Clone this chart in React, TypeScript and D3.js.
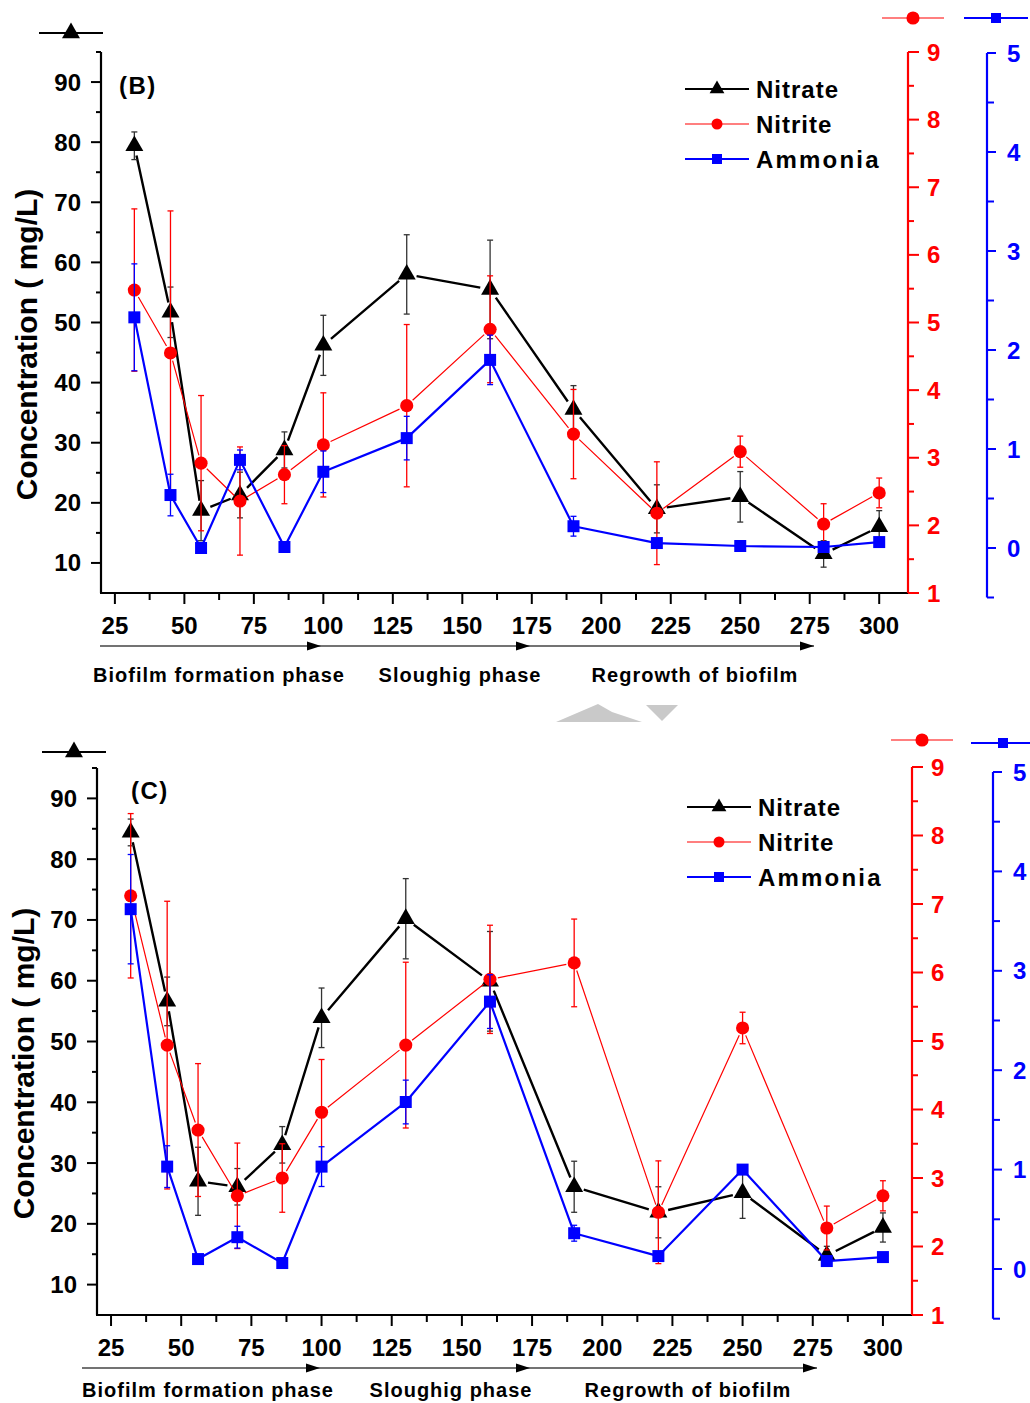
import React, { useEffect } from 'react';
import * as d3 from 'd3';

// Sampling days (x positions of every series)
const days = [32, 45, 56, 70, 86, 100, 130, 160, 190, 220, 250, 280, 300];

// Panel (B)
const nitrateB = [79.4, 51.7, 18.7, 21.3, 28.8, 46.2, 58.0, 55.5, 35.5, 19.0, 21.0, 11.5, 16.0];
const nitrateErrB = [2.3, 4.2, 5.0, 3.8, 3.0, 5.0, 6.6, 8.2, 4.0, 4.0, 4.2, 2.2, 2.7];
const nitriteB = [5.48, 4.55, 2.92, 2.36, 2.75, 3.19, 3.77, 4.9, 3.35, 2.18, 3.09, 2.02, 2.48];
const nitriteErrB = [1.2, 2.1, 1.0, 0.8, 0.43, 0.77, 1.2, 0.79, 0.66, 0.76, 0.23, 0.3, 0.22];
const ammoniaB = [2.33, 0.535, 0.0, 0.89, 0.01, 0.77, 1.11, 1.9, 0.22, 0.05, 0.02, 0.01, 0.06];
const ammoniaErrB = [0.54, 0.21, 0.03, 0.1, 0.02, 0.21, 0.22, 0.25, 0.1, 0.02, 0.02, 0.02, 0.02];

// Panel (C)
const nitrateC = [84.4, 56.6, 27.0, 26.1, 33.0, 53.9, 70.2, 59.9, 26.1, 21.9, 25.1, 14.8, 19.4];
const nitrateErrC = [2.2, 4.0, 5.6, 3.0, 3.0, 4.9, 6.6, 8.2, 4.2, 4.2, 4.2, 1.5, 2.4];
const nitriteC = [7.12, 4.94, 3.7, 2.74, 3.0, 3.96, 4.94, 5.9, 6.14, 2.5, 5.19, 2.27, 2.74];
const nitriteErrC = [1.2, 2.1, 0.97, 0.77, 0.5, 0.77, 1.21, 0.79, 0.64, 0.75, 0.23, 0.32, 0.22];
const ammoniaC = [3.62, 1.03, 0.1, 0.32, 0.06, 1.03, 1.68, 2.69, 0.36, 0.13, 1.0, 0.08, 0.12];
const ammoniaErrC = [0.55, 0.21, 0.03, 0.11, 0.02, 0.2, 0.22, 0.27, 0.08, 0.03, 0.03, 0.03, 0.03];

// Axis ticks and labels
const xTicks = [25, 50, 75, 100, 125, 150, 175, 200, 225, 250, 275, 300];
const leftTicks = [10, 20, 30, 40, 50, 60, 70, 80, 90];
const redTicks = [1, 2, 3, 4, 5, 6, 7, 8, 9];
const blueTicks = [0, 1, 2, 3, 4, 5];
const seriesNames = ['Nitrate', 'Nitrite', 'Ammonia'];
const phaseNames = ['Biofilm formation phase', 'Sloughig phase', 'Regrowth of biofilm'];

const FONT = '"Liberation Sans", Arial, Helvetica, sans-serif';
const BLACK = '#000';
const RED = '#ff0000';
const BLUE = '#0000ff';

type Layout = {
  label: string;
  x0: number; x1: number;
  yTop: number; yBot: number;
  redX: number; redTop: number; redBot: number;
  blueX: number; blueTop: number; blueBot: number;
  legendX: number; legendY: number;
  keyBlack: [number, number]; keyRed: [number, number]; keyBlue: [number, number];
  arrowY: number; arrowX0: number; arrowTips: number[];
  phaseY: number; phaseCx: number[];
  titleX: number; labelX: number; labelY: number;
  nitrate: number[]; nitrateErr: number[];
  nitrite: number[]; nitriteErr: number[];
  ammonia: number[]; ammoniaErr: number[];
};

const tri = d3.symbol(d3.symbolTriangle, 140)();
const triSmall = d3.symbol(d3.symbolTriangle, 95)();
const circ = d3.symbol(d3.symbolCircle, 135)();
const circSmall = d3.symbol(d3.symbolCircle, 95)();
const sq = d3.symbol(d3.symbolSquare, 144)();
const sqSmall = d3.symbol(d3.symbolSquare, 100)();

// Connecting segments, trimmed near each symbol so the line stops short of it
function segments(pts: [number, number][], gap: number) {
  const out: string[] = [];
  for (let i = 0; i < pts.length - 1; i++) {
    const [ax, ay] = pts[i];
    const [bx, by] = pts[i + 1];
    const len = Math.hypot(bx - ax, by - ay);
    if (len <= 2 * gap) continue;
    const ux = (bx - ax) / len, uy = (by - ay) / len;
    out.push(`M${ax + ux * gap},${ay + uy * gap}L${bx - ux * gap},${by - uy * gap}`);
  }
  return out.join('');
}

function Series({ xs, ys, errs, yScale, color, lineW, gap, marker, errColor }: any) {
  const pts: [number, number][] = xs.map((d: number, i: number) => [xs[i], yScale(ys[i])]);
  return (
    <g>
      <path d={segments(pts, gap)} stroke={color} strokeWidth={lineW} fill="none" />
      {pts.map(([px], i) => {
        const hi = yScale(ys[i] + errs[i]);
        const lo = yScale(ys[i] - errs[i]);
        return (
          <g key={i} stroke={errColor} strokeWidth={1.3}>
            <line x1={px} x2={px} y1={hi} y2={lo} />
            <line x1={px - 3} x2={px + 3} y1={hi} y2={hi} />
            <line x1={px - 3} x2={px + 3} y1={lo} y2={lo} />
          </g>
        );
      })}
      {pts.map(([px, py], i) => (
        <path key={'m' + i} d={marker} transform={`translate(${px},${py})`} fill={color} />
      ))}
    </g>
  );
}

function Key({ cx, cy, color, marker, w, thin }: any) {
  return (
    <g>
      <line x1={cx - w / 2} x2={cx + w / 2} y1={cy} y2={cy} stroke={color} strokeWidth={thin ? 1.2 : 2.2} />
      <path d={marker} transform={`translate(${cx},${cy})`} fill={color} />
    </g>
  );
}

function Panel({ L }: { L: Layout }) {
  const x = d3.scaleLinear().domain([20, 310]).range([L.x0, L.x1]);
  const y = d3.scaleLinear().domain([5, 95]).range([L.yBot, L.yTop]);
  const yr = d3.scaleLinear().domain([1, 9]).range([L.redBot, L.redTop]);
  const yb = d3.scaleLinear().domain([-0.5, 5]).range([L.blueBot, L.blueTop]);
  const xs = days.map((d) => x(d));
  const xMinor = d3.range(25, 310, 12.5);
  const leftMinor = d3.range(15, 96, 10);
  const redMinor = d3.range(1.5, 9, 1);
  const blueMinor = d3.range(-0.5, 5, 1);

  return (
    <g fontFamily={FONT} fontWeight="bold">
      {/* bottom axis */}
      <line x1={L.x0 - 1} x2={L.redX} y1={L.yBot} y2={L.yBot} stroke={BLACK} strokeWidth={2.2} />
      {xMinor.map((t) => (
        <line key={'xm' + t} x1={x(t)} x2={x(t)} y1={L.yBot} y2={L.yBot + (t % 25 === 0 ? 11 : 7)} stroke={BLACK} strokeWidth={2} />
      ))}
      {xTicks.map((t) => (
        <text key={'xt' + t} x={x(t)} y={L.yBot + 41} fontSize={24} textAnchor="middle" fill={BLACK}>{t}</text>
      ))}

      {/* left axis */}
      <line x1={L.x0} x2={L.x0} y1={L.yTop} y2={L.yBot} stroke={BLACK} strokeWidth={2.2} />
      {leftTicks.map((t) => (
        <g key={'yl' + t}>
          <line x1={L.x0 - 10} x2={L.x0} y1={y(t)} y2={y(t)} stroke={BLACK} strokeWidth={2} />
          <text x={L.x0 - 20} y={y(t) + 8.5} fontSize={24} textAnchor="end" fill={BLACK}>{t}</text>
        </g>
      ))}
      {leftMinor.map((t) => (
        <line key={'ylm' + t} x1={L.x0 - 5} x2={L.x0} y1={y(t)} y2={y(t)} stroke={BLACK} strokeWidth={2} />
      ))}

      {/* red right axis */}
      <line x1={L.redX} x2={L.redX} y1={L.redTop} y2={L.redBot} stroke={RED} strokeWidth={2.2} />
      {redTicks.map((t) => (
        <g key={'yr' + t}>
          <line x1={L.redX} x2={L.redX + 11} y1={yr(t)} y2={yr(t)} stroke={RED} strokeWidth={2} />
          <text x={L.redX + 19} y={yr(t) + 8.5} fontSize={24} fill={RED}>{t}</text>
        </g>
      ))}
      {redMinor.map((t) => (
        <line key={'yrm' + t} x1={L.redX} x2={L.redX + 6} y1={yr(t)} y2={yr(t)} stroke={RED} strokeWidth={2} />
      ))}

      {/* blue right axis */}
      <line x1={L.blueX} x2={L.blueX} y1={L.blueTop} y2={L.blueBot} stroke={BLUE} strokeWidth={2.2} />
      {blueTicks.map((t) => (
        <g key={'yb' + t}>
          <line x1={L.blueX} x2={L.blueX + 9} y1={yb(t)} y2={yb(t)} stroke={BLUE} strokeWidth={2} />
          <text x={L.blueX + 20} y={yb(t) + 8.5} fontSize={24} fill={BLUE}>{t}</text>
        </g>
      ))}
      {blueMinor.map((t) => (
        <line key={'ybm' + t} x1={L.blueX} x2={L.blueX + 7} y1={yb(t)} y2={yb(t)} stroke={BLUE} strokeWidth={2} />
      ))}

      {/* axis keys above each axis */}
      <Key cx={L.keyBlack[0]} cy={L.keyBlack[1]} color={BLACK} marker={tri} w={64} />
      <Key cx={L.keyRed[0]} cy={L.keyRed[1]} color={RED} marker={circ} w={62} thin />
      <Key cx={L.keyBlue[0]} cy={L.keyBlue[1]} color={BLUE} marker={sqSmall} w={64} />

      {/* y title and panel label */}
      <text transform={`translate(${L.titleX},${(L.yTop + L.yBot) / 2 + 22}) rotate(-90)`} fontSize={30} textAnchor="middle" fill={BLACK}>
        Concentration ( mg/L)
      </text>
      <text x={L.labelX} y={L.labelY + 8.5} fontSize={24} fill={BLACK} letterSpacing={1.5}>{L.label}</text>

      {/* data */}
      <Series xs={xs} ys={L.nitrate} errs={L.nitrateErr} yScale={y} color={BLACK} errColor="#333" lineW={2.4} gap={10} marker={tri} />
      <Series xs={xs} ys={L.nitrite} errs={L.nitriteErr} yScale={yr} color={RED} errColor={RED} lineW={1.2} gap={8} marker={circ} />
      <Series xs={xs} ys={L.ammonia} errs={L.ammoniaErr} yScale={yb} color={BLUE} errColor={BLUE} lineW={2.2} gap={0} marker={sq} />

      {/* legend */}
      {seriesNames.map((n, i) => {
        const ly = L.legendY + i * 35;
        const col = [BLACK, RED, BLUE][i];
        const mk = [triSmall, circSmall, sqSmall][i];
        return (
          <g key={n}>
            <Key cx={L.legendX + 32} cy={ly} color={col} marker={mk} w={64} thin={i === 1} />
            <text x={L.legendX + 71} y={ly + 9} fontSize={24} fill={BLACK} letterSpacing={i === 2 ? 2.2 : 1}>{n}</text>
          </g>
        );
      })}

      {/* phase arrows */}
      <line x1={L.arrowX0} x2={L.arrowTips[2]} y1={L.arrowY} y2={L.arrowY} stroke="#444" strokeWidth={1.3} />
      {L.arrowTips.map((tx, i) => (
        <path key={'ah' + i} d={`M${tx},${L.arrowY}L${tx - 14},${L.arrowY - 4.5}L${tx - 14},${L.arrowY + 4.5}Z`} fill={BLACK} />
      ))}
      {phaseNames.map((p, i) => (
        <text key={p} x={L.phaseCx[i]} y={L.phaseY + 7} fontSize={20} textAnchor="middle" fill={BLACK} letterSpacing={1}>{p}</text>
      ))}
    </g>
  );
}

const layoutB: Layout = {
  label: '(B)',
  x0: 101, x1: 907, yTop: 52, yBot: 593,
  redX: 908, redTop: 52, redBot: 593,
  blueX: 987, blueTop: 53, blueBot: 597.5,
  legendX: 685, legendY: 89,
  keyBlack: [71, 33], keyRed: [913, 18], keyBlue: [996, 18],
  arrowY: 646, arrowX0: 100, arrowTips: [321, 530, 814],
  phaseY: 675, phaseCx: [219, 460, 695],
  titleX: 37, labelX: 119, labelY: 85,
  nitrate: nitrateB, nitrateErr: nitrateErrB,
  nitrite: nitriteB, nitriteErr: nitriteErrB,
  ammonia: ammoniaB, ammoniaErr: ammoniaErrB,
};

const layoutC: Layout = {
  label: '(C)',
  x0: 97, x1: 911, yTop: 768, yBot: 1315,
  redX: 912, redTop: 767, redBot: 1315,
  blueX: 993, blueTop: 772, blueBot: 1318.7,
  legendX: 687, legendY: 807,
  keyBlack: [74, 752], keyRed: [922, 740], keyBlue: [1003, 743],
  arrowY: 1368, arrowX0: 82, arrowTips: [320, 530, 817],
  phaseY: 1390, phaseCx: [208, 451, 688],
  titleX: 34, labelX: 131, labelY: 790,
  nitrate: nitrateC, nitrateErr: nitrateErrC,
  nitrite: nitriteC, nitriteErr: nitriteErrC,
  ammonia: ammoniaC, ammoniaErr: ammoniaErrC,
};

export default function App() {
  useEffect(() => {
    document.body.style.margin = '0';
  }, []);
  return (
    <svg width={1030} height={1403} viewBox="0 0 1030 1403" style={{ display: 'block', background: '#fff' }}>
      <rect width={1030} height={1403} fill="#fff" />
      {/* faint grey chevron between the two panels */}
      <path d="M556,722L598,704L612,712L642,722Z" fill="#c9c9c9" />
      <path d="M646,705L678,705L662,721Z" fill="#c9c9c9" />
      <Panel L={layoutB} />
      <Panel L={layoutC} />
    </svg>
  );
}
